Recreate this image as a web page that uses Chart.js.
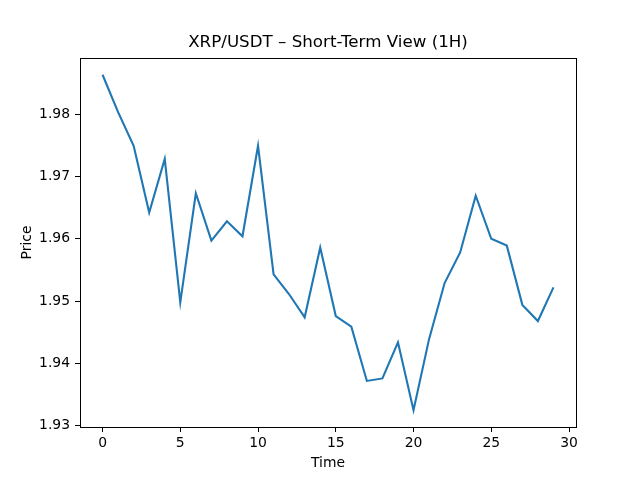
<!DOCTYPE html>
<html>
<head>
<meta charset="utf-8">
<script src="https://cdn.jsdelivr.net/npm/chart.js@4/dist/chart.umd.min.js"></script>
<style>
html,body{margin:0;padding:0;background:#fff;}
#wrap{width:640px;height:480px;}
</style>
</head>
<body>
<div id="wrap"><canvas id="c" width="640" height="480"></canvas></div>
<script>
const timeSteps = [0,1,2,3,4,5,6,7,8,9,10,11,12,13,14,15,16,17,18,19,20,21,22,23,24,25,26,27,28,29];
const prices = [1.9863,1.9803,1.9749,1.9642,1.9728,1.9498,1.9673,1.9597,1.9628,1.9604,
                1.9749,1.9543,1.9511,1.9474,1.9586,1.9476,1.9459,1.9372,1.9376,1.9434,
                1.9325,1.9439,1.9529,1.9578,1.9669,1.9600,1.9589,1.9494,1.9468,1.9522];
const xTicks = [0,5,10,15,20,25,30];
const yTicks = [1.93,1.94,1.95,1.96,1.97,1.98];
const chartTitle = 'XRP/USDT – Short-Term View (1H)';

const font = "'DejaVu Sans', sans-serif";

const frame = {
  id:'frame',
  afterDraw(chart){
    const {ctx, chartArea:a} = chart;
    ctx.save();
    ctx.strokeStyle='#000';
    ctx.lineWidth=1;
    ctx.strokeRect(Math.round(a.left)+0.5, Math.round(a.top)+0.5, Math.round(a.right-a.left), Math.round(a.bottom-a.top));
    ctx.fillStyle='#000';
    ctx.font = "16.7px " + font;
    ctx.textAlign='center';
    ctx.textBaseline='middle';
    ctx.fillText(chartTitle, (a.left+a.right)/2, 43);
    ctx.restore();
  }
};

new Chart(document.getElementById('c'), {
  type:'line',
  data:{
    datasets:[{
      data: timeSteps.map((t,i)=>({x:t,y:prices[i]})),
      borderColor:'#1f77b4',
      borderWidth:2.1,
      pointRadius:0,
      tension:0,
      fill:false
    }]
  },
  options:{
    responsive:false,
    animation:false,
    layout:{padding:{left:0,right:64,top:58,bottom:0}},
    plugins:{
      legend:{display:false},
      tooltip:{enabled:false},
      title:{display:false}
    },
    scales:{
      x:{
        type:'linear',min:-1.45,max:30.45,
        afterBuildTicks(s){s.ticks = xTicks.map(v=>({value:v}));},
        afterFit(s){s.height=53;},
        grid:{drawOnChartArea:false,drawTicks:true,tickLength:5,color:'#000'},
        border:{display:true,color:'#000'},
        ticks:{color:'#000',font:{family:font,size:13.9},padding:3,maxRotation:0,callback:v=>String(v)},
        title:{display:true,text:'Time',color:'#000',font:{family:font,size:13.9},padding:{top:0,bottom:8}}
      },
      y:{
        type:'linear',min:1.92981,max:1.98899,
        afterBuildTicks(s){s.ticks = yTicks.map(v=>({value:v}));},
        afterFit(s){s.width=80;},
        grid:{drawOnChartArea:false,drawTicks:true,tickLength:5,color:'#000'},
        border:{display:true,color:'#000'},
        ticks:{color:'#000',font:{family:font,size:13.9},padding:5,callback:v=>Number(v).toFixed(2)},
        title:{display:true,text:'Price',color:'#000',font:{family:font,size:13.9},padding:{top:19,bottom:0}}
      }
    }
  },
  plugins:[frame]
});
</script>
</body>
</html>
